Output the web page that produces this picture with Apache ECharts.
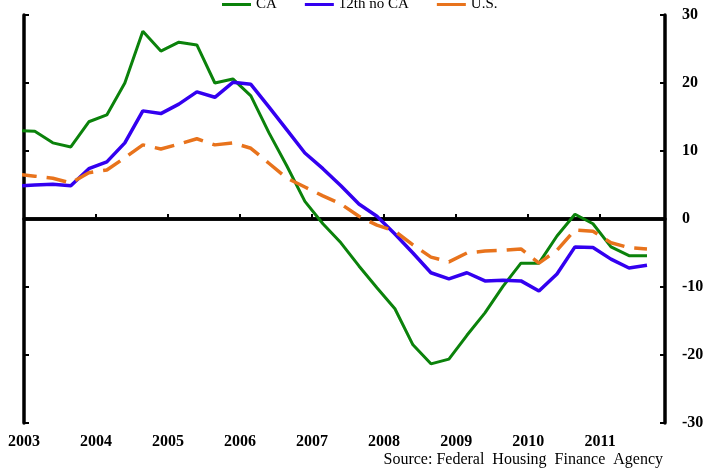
<!DOCTYPE html>
<html>
<head>
<meta charset="utf-8">
<script src="https://cdn.jsdelivr.net/npm/echarts@6/dist/echarts.min.js"></script>
<style>
  html, body { margin: 0; padding: 0; background: #fff; }
  #chart { width: 708px; height: 471px; }
</style>
</head>
<body>
<div id="chart"></div>
<script>
// quarterly points, 2002Q4 .. 2011Q3
var quarters = [
  '2002Q4',
  '2003Q1', '2003Q2', '2003Q3', '2003Q4',
  '2004Q1', '2004Q2', '2004Q3', '2004Q4',
  '2005Q1', '2005Q2', '2005Q3', '2005Q4',
  '2006Q1', '2006Q2', '2006Q3', '2006Q4',
  '2007Q1', '2007Q2', '2007Q3', '2007Q4',
  '2008Q1', '2008Q2', '2008Q3', '2008Q4',
  '2009Q1', '2009Q2', '2009Q3', '2009Q4',
  '2010Q1', '2010Q2', '2010Q3', '2010Q4',
  '2011Q1', '2011Q2', '2011Q3'
]
var caValues = [
  13.0,
  12.9, 11.2, 10.6, 14.3,
  15.3, 20.0, 27.6, 24.7,
  26.0, 25.6, 20.0, 20.6,
  18.1, 12.7, 7.8, 2.6,
  -0.7, -3.5, -6.9, -10.1,
  -13.2, -18.5, -21.3, -20.6,
  -17.1, -13.8, -9.9, -6.5,
  -6.5, -2.5, 0.7, -0.7,
  -4.1, -5.4, -5.4
]
var twelfthValues = [
  4.85,
  5.0, 5.1, 4.9, 7.4,
  8.4, 11.2, 15.9, 15.5,
  16.9, 18.7, 17.9, 20.1,
  19.8, 16.5, 13.1, 9.7,
  7.4, 4.9, 2.2, 0.4,
  -2.2, -5.0, -7.9, -8.8,
  -7.9, -9.1, -9.0, -9.1,
  -10.6, -8.1, -4.1, -4.2,
  -5.9, -7.2, -6.8
]
var usValues = [
  6.6,
  6.3, 6.0, 5.3, 6.8,
  7.2, 9.0, 10.9, 10.3,
  11.0, 11.8, 10.9, 11.2,
  10.4, 8.2, 6.0, 4.7,
  3.4, 2.2, 0.4, -0.9,
  -1.8, -3.8, -5.6, -6.3,
  -5.0, -4.7, -4.6, -4.4,
  -6.5, -4.6, -1.6, -1.8,
  -3.5, -4.2, -4.4
]
var seriesNames = ['CA', '12th no CA', 'U.S.']
var yTicks = [-30, -20, -10, 0, 10, 20, 30]

var FONT = 'Liberation Serif'

// quarter label -> position on the year axis (points sit a little into each quarter)
function quarterPos(q) {
  var year = parseInt(q.slice(0, 4), 10)
  var n = parseInt(q.slice(5), 10)
  return year + (n - 1) * 0.25 + 0.15
}

function pairs(values) {
  return values.map(function(v, i) {
    return [quarterPos(quarters[i]), v]
  })
}

var chart = echarts.init(document.getElementById('chart'), null, { renderer: 'canvas' })

var axisLine = { show: true, lineStyle: { color: '#000', width: 3.5 } }
var axisTick = { show: true, inside: true, length: 5, lineStyle: { color: '#000', width: 2 } }

var option = {
  animation: false,
  backgroundColor: '#fff',
  legend: {
    top: -8,
    left: 217,
    itemWidth: 29,
    itemHeight: 3,
    itemGap: 28,
    icon: 'rect',
    data: [
      { name: seriesNames[0], itemStyle: { color: '#0b820b' } },
      { name: seriesNames[1], itemStyle: { color: '#3300f0' } },
      { name: seriesNames[2], itemStyle: { color: '#e8731c' } }
    ],
    textStyle: { fontFamily: FONT, fontSize: 15, color: '#000' }
  },
  grid: { left: 24, right: 43, top: 15, bottom: 48 },
  xAxis: {
    type: 'value',
    min: 2003,
    max: 2011.9,
    interval: 1,
    axisLine: axisLine,
    axisTick: axisTick,
    splitLine: { show: false },
    axisLabel: {
      margin: 11,
      fontFamily: FONT,
      fontSize: 16,
      fontWeight: 'bold',
      color: '#000',
      formatter: function(v) {
        return Math.abs(v - Math.round(v)) < 1e-6 ? String(Math.round(v)) : ''
      }
    }
  },
  yAxis: [
    {
      type: 'value',
      position: 'right',
      min: yTicks[0],
      max: yTicks[yTicks.length - 1],
      interval: 10,
      axisLine: axisLine,
      axisTick: axisTick,
      splitLine: { show: false },
      axisLabel: {
        margin: 17,
        fontFamily: FONT,
        fontSize: 16,
        fontWeight: 'bold',
        color: '#000'
      }
    },
    {
      type: 'value',
      position: 'left',
      min: yTicks[0],
      max: yTicks[yTicks.length - 1],
      interval: 10,
      axisLine: axisLine,
      axisTick: axisTick,
      splitLine: { show: false },
      axisLabel: { show: false }
    }
  ],
  series: [
    {
      name: seriesNames[0],
      type: 'line',
      data: pairs(caValues),
      symbol: 'none',
      clip: true,
      z: 3,
      lineStyle: { color: '#0b820b', width: 3 },
      itemStyle: { color: '#0b820b' },
      markLine: {
        silent: true,
        symbol: 'none',
        label: { show: false },
        lineStyle: { color: '#000', width: 3.5, type: 'solid' },
        data: [{ yAxis: 0 }],
        z: 1
      }
    },
    {
      name: seriesNames[1],
      type: 'line',
      data: pairs(twelfthValues),
      symbol: 'none',
      clip: true,
      z: 3,
      lineStyle: { color: '#3300f0', width: 3.5 },
      itemStyle: { color: '#3300f0' }
    },
    {
      name: seriesNames[2],
      type: 'line',
      data: pairs(usValues),
      symbol: 'none',
      clip: true,
      z: 4,
      lineStyle: { color: '#e8731c', width: 3.5, type: [20, 10] },
      itemStyle: { color: '#e8731c' }
    }
  ],
  graphic: [
    {
      type: 'text',
      right: 45,
      bottom: 3,
      style: {
        text: 'Source: Federal  Housing  Finance  Agency',
        fontFamily: FONT,
        fontSize: 16,
        fill: '#000'
      }
    }
  ]
}

chart.setOption(option)
</script>
</body>
</html>
